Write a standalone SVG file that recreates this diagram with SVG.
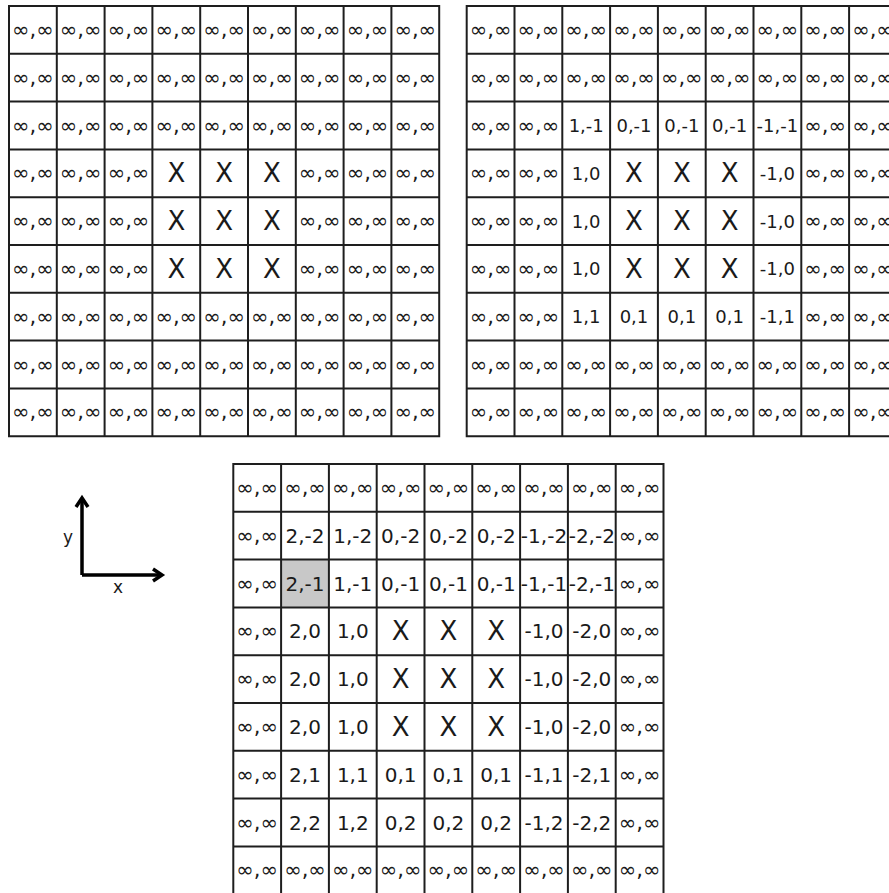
<svg xmlns="http://www.w3.org/2000/svg" xmlns:xlink="http://www.w3.org/1999/xlink" width="889" height="893" viewBox="0 0 889 893">
<style>
text{font-family:"DejaVu Sans","Liberation Sans",sans-serif;fill:#1a1a1a;text-anchor:middle;dominant-baseline:central}
.i{font-size:21px}
.b{font-size:18px}
.c{font-size:20px}
.x{font-size:26px}
.grid{fill:none;stroke:#1e1e1e;stroke-width:2}
.ax{fill:none;stroke:#000;stroke-width:3.5;stroke-linecap:butt;stroke-linejoin:miter}
.lbl{font-size:17px;dominant-baseline:auto}
</style>
<defs>
<path id="gridlines" class="grid" d="M0,0H430.2V430.2H0Z M47.8,0V430.2 M95.6,0V430.2 M143.4,0V430.2 M191.2,0V430.2 M239,0V430.2 M286.8,0V430.2 M334.6,0V430.2 M382.4,0V430.2 M0,47.8H430.2 M0,95.6H430.2 M0,143.4H430.2 M0,191.2H430.2 M0,239H430.2 M0,286.8H430.2 M0,334.6H430.2 M0,382.4H430.2"/>
</defs>
<rect width="889" height="893" fill="#fff"/>

<g id="gridA" transform="translate(9,6)">
<use xlink:href="#gridlines"/>
<g transform="translate(0,23.9)">
<g><text class="i" x="23.9">∞,∞</text><text class="i" x="71.7">∞,∞</text><text class="i" x="119.5">∞,∞</text><text class="i" x="167.3">∞,∞</text><text class="i" x="215.1">∞,∞</text><text class="i" x="262.9">∞,∞</text><text class="i" x="310.7">∞,∞</text><text class="i" x="358.5">∞,∞</text><text class="i" x="406.3">∞,∞</text></g>
<g transform="translate(0,47.8)"><text class="i" x="23.9">∞,∞</text><text class="i" x="71.7">∞,∞</text><text class="i" x="119.5">∞,∞</text><text class="i" x="167.3">∞,∞</text><text class="i" x="215.1">∞,∞</text><text class="i" x="262.9">∞,∞</text><text class="i" x="310.7">∞,∞</text><text class="i" x="358.5">∞,∞</text><text class="i" x="406.3">∞,∞</text></g>
<g transform="translate(0,95.6)"><text class="i" x="23.9">∞,∞</text><text class="i" x="71.7">∞,∞</text><text class="i" x="119.5">∞,∞</text><text class="i" x="167.3">∞,∞</text><text class="i" x="215.1">∞,∞</text><text class="i" x="262.9">∞,∞</text><text class="i" x="310.7">∞,∞</text><text class="i" x="358.5">∞,∞</text><text class="i" x="406.3">∞,∞</text></g>
<g transform="translate(0,143.4)"><text class="i" x="23.9">∞,∞</text><text class="i" x="71.7">∞,∞</text><text class="i" x="119.5">∞,∞</text><text class="x" x="167.3">X</text><text class="x" x="215.1">X</text><text class="x" x="262.9">X</text><text class="i" x="310.7">∞,∞</text><text class="i" x="358.5">∞,∞</text><text class="i" x="406.3">∞,∞</text></g>
<g transform="translate(0,191.2)"><text class="i" x="23.9">∞,∞</text><text class="i" x="71.7">∞,∞</text><text class="i" x="119.5">∞,∞</text><text class="x" x="167.3">X</text><text class="x" x="215.1">X</text><text class="x" x="262.9">X</text><text class="i" x="310.7">∞,∞</text><text class="i" x="358.5">∞,∞</text><text class="i" x="406.3">∞,∞</text></g>
<g transform="translate(0,239)"><text class="i" x="23.9">∞,∞</text><text class="i" x="71.7">∞,∞</text><text class="i" x="119.5">∞,∞</text><text class="x" x="167.3">X</text><text class="x" x="215.1">X</text><text class="x" x="262.9">X</text><text class="i" x="310.7">∞,∞</text><text class="i" x="358.5">∞,∞</text><text class="i" x="406.3">∞,∞</text></g>
<g transform="translate(0,286.8)"><text class="i" x="23.9">∞,∞</text><text class="i" x="71.7">∞,∞</text><text class="i" x="119.5">∞,∞</text><text class="i" x="167.3">∞,∞</text><text class="i" x="215.1">∞,∞</text><text class="i" x="262.9">∞,∞</text><text class="i" x="310.7">∞,∞</text><text class="i" x="358.5">∞,∞</text><text class="i" x="406.3">∞,∞</text></g>
<g transform="translate(0,334.6)"><text class="i" x="23.9">∞,∞</text><text class="i" x="71.7">∞,∞</text><text class="i" x="119.5">∞,∞</text><text class="i" x="167.3">∞,∞</text><text class="i" x="215.1">∞,∞</text><text class="i" x="262.9">∞,∞</text><text class="i" x="310.7">∞,∞</text><text class="i" x="358.5">∞,∞</text><text class="i" x="406.3">∞,∞</text></g>
<g transform="translate(0,382.4)"><text class="i" x="23.9">∞,∞</text><text class="i" x="71.7">∞,∞</text><text class="i" x="119.5">∞,∞</text><text class="i" x="167.3">∞,∞</text><text class="i" x="215.1">∞,∞</text><text class="i" x="262.9">∞,∞</text><text class="i" x="310.7">∞,∞</text><text class="i" x="358.5">∞,∞</text><text class="i" x="406.3">∞,∞</text></g>
</g>
</g>

<g id="gridB" transform="translate(466.7,6)">
<use xlink:href="#gridlines"/>
<g transform="translate(0,23.9)">
<g><text class="i" x="23.9">∞,∞</text><text class="i" x="71.7">∞,∞</text><text class="i" x="119.5">∞,∞</text><text class="i" x="167.3">∞,∞</text><text class="i" x="215.1">∞,∞</text><text class="i" x="262.9">∞,∞</text><text class="i" x="310.7">∞,∞</text><text class="i" x="358.5">∞,∞</text><text class="i" x="406.3">∞,∞</text></g>
<g transform="translate(0,47.8)"><text class="i" x="23.9">∞,∞</text><text class="i" x="71.7">∞,∞</text><text class="i" x="119.5">∞,∞</text><text class="i" x="167.3">∞,∞</text><text class="i" x="215.1">∞,∞</text><text class="i" x="262.9">∞,∞</text><text class="i" x="310.7">∞,∞</text><text class="i" x="358.5">∞,∞</text><text class="i" x="406.3">∞,∞</text></g>
<g transform="translate(0,95.6)"><text class="i" x="23.9">∞,∞</text><text class="i" x="71.7">∞,∞</text><text class="b" x="119.5">1,-1</text><text class="b" x="167.3">0,-1</text><text class="b" x="215.1">0,-1</text><text class="b" x="262.9">0,-1</text><text class="b" x="310.7">-1,-1</text><text class="i" x="358.5">∞,∞</text><text class="i" x="406.3">∞,∞</text></g>
<g transform="translate(0,143.4)"><text class="i" x="23.9">∞,∞</text><text class="i" x="71.7">∞,∞</text><text class="b" x="119.5">1,0</text><text class="x" x="167.3">X</text><text class="x" x="215.1">X</text><text class="x" x="262.9">X</text><text class="b" x="310.7">-1,0</text><text class="i" x="358.5">∞,∞</text><text class="i" x="406.3">∞,∞</text></g>
<g transform="translate(0,191.2)"><text class="i" x="23.9">∞,∞</text><text class="i" x="71.7">∞,∞</text><text class="b" x="119.5">1,0</text><text class="x" x="167.3">X</text><text class="x" x="215.1">X</text><text class="x" x="262.9">X</text><text class="b" x="310.7">-1,0</text><text class="i" x="358.5">∞,∞</text><text class="i" x="406.3">∞,∞</text></g>
<g transform="translate(0,239)"><text class="i" x="23.9">∞,∞</text><text class="i" x="71.7">∞,∞</text><text class="b" x="119.5">1,0</text><text class="x" x="167.3">X</text><text class="x" x="215.1">X</text><text class="x" x="262.9">X</text><text class="b" x="310.7">-1,0</text><text class="i" x="358.5">∞,∞</text><text class="i" x="406.3">∞,∞</text></g>
<g transform="translate(0,286.8)"><text class="i" x="23.9">∞,∞</text><text class="i" x="71.7">∞,∞</text><text class="b" x="119.5">1,1</text><text class="b" x="167.3">0,1</text><text class="b" x="215.1">0,1</text><text class="b" x="262.9">0,1</text><text class="b" x="310.7">-1,1</text><text class="i" x="358.5">∞,∞</text><text class="i" x="406.3">∞,∞</text></g>
<g transform="translate(0,334.6)"><text class="i" x="23.9">∞,∞</text><text class="i" x="71.7">∞,∞</text><text class="i" x="119.5">∞,∞</text><text class="i" x="167.3">∞,∞</text><text class="i" x="215.1">∞,∞</text><text class="i" x="262.9">∞,∞</text><text class="i" x="310.7">∞,∞</text><text class="i" x="358.5">∞,∞</text><text class="i" x="406.3">∞,∞</text></g>
<g transform="translate(0,382.4)"><text class="i" x="23.9">∞,∞</text><text class="i" x="71.7">∞,∞</text><text class="i" x="119.5">∞,∞</text><text class="i" x="167.3">∞,∞</text><text class="i" x="215.1">∞,∞</text><text class="i" x="262.9">∞,∞</text><text class="i" x="310.7">∞,∞</text><text class="i" x="358.5">∞,∞</text><text class="i" x="406.3">∞,∞</text></g>
</g>
</g>

<g id="gridC" transform="translate(233.3,464)">
<rect id="highlight" x="47.8" y="95.6" width="47.8" height="47.8" fill="#c8c8c8"/>
<use xlink:href="#gridlines"/>
<g transform="translate(0,23.9)">
<g><text class="i" x="23.9">∞,∞</text><text class="i" x="71.7">∞,∞</text><text class="i" x="119.5">∞,∞</text><text class="i" x="167.3">∞,∞</text><text class="i" x="215.1">∞,∞</text><text class="i" x="262.9">∞,∞</text><text class="i" x="310.7">∞,∞</text><text class="i" x="358.5">∞,∞</text><text class="i" x="406.3">∞,∞</text></g>
<g transform="translate(0,47.8)"><text class="i" x="23.9">∞,∞</text><text class="c" x="71.7">2,-2</text><text class="c" x="119.5">1,-2</text><text class="c" x="167.3">0,-2</text><text class="c" x="215.1">0,-2</text><text class="c" x="262.9">0,-2</text><text class="c" x="310.7">-1,-2</text><text class="c" x="358.5">-2,-2</text><text class="i" x="406.3">∞,∞</text></g>
<g transform="translate(0,95.6)"><text class="i" x="23.9">∞,∞</text><text class="c" x="71.7">2,-1</text><text class="c" x="119.5">1,-1</text><text class="c" x="167.3">0,-1</text><text class="c" x="215.1">0,-1</text><text class="c" x="262.9">0,-1</text><text class="c" x="310.7">-1,-1</text><text class="c" x="358.5">-2,-1</text><text class="i" x="406.3">∞,∞</text></g>
<g transform="translate(0,143.4)"><text class="i" x="23.9">∞,∞</text><text class="c" x="71.7">2,0</text><text class="c" x="119.5">1,0</text><text class="x" x="167.3">X</text><text class="x" x="215.1">X</text><text class="x" x="262.9">X</text><text class="c" x="310.7">-1,0</text><text class="c" x="358.5">-2,0</text><text class="i" x="406.3">∞,∞</text></g>
<g transform="translate(0,191.2)"><text class="i" x="23.9">∞,∞</text><text class="c" x="71.7">2,0</text><text class="c" x="119.5">1,0</text><text class="x" x="167.3">X</text><text class="x" x="215.1">X</text><text class="x" x="262.9">X</text><text class="c" x="310.7">-1,0</text><text class="c" x="358.5">-2,0</text><text class="i" x="406.3">∞,∞</text></g>
<g transform="translate(0,239)"><text class="i" x="23.9">∞,∞</text><text class="c" x="71.7">2,0</text><text class="c" x="119.5">1,0</text><text class="x" x="167.3">X</text><text class="x" x="215.1">X</text><text class="x" x="262.9">X</text><text class="c" x="310.7">-1,0</text><text class="c" x="358.5">-2,0</text><text class="i" x="406.3">∞,∞</text></g>
<g transform="translate(0,286.8)"><text class="i" x="23.9">∞,∞</text><text class="c" x="71.7">2,1</text><text class="c" x="119.5">1,1</text><text class="c" x="167.3">0,1</text><text class="c" x="215.1">0,1</text><text class="c" x="262.9">0,1</text><text class="c" x="310.7">-1,1</text><text class="c" x="358.5">-2,1</text><text class="i" x="406.3">∞,∞</text></g>
<g transform="translate(0,334.6)"><text class="i" x="23.9">∞,∞</text><text class="c" x="71.7">2,2</text><text class="c" x="119.5">1,2</text><text class="c" x="167.3">0,2</text><text class="c" x="215.1">0,2</text><text class="c" x="262.9">0,2</text><text class="c" x="310.7">-1,2</text><text class="c" x="358.5">-2,2</text><text class="i" x="406.3">∞,∞</text></g>
<g transform="translate(0,382.4)"><text class="i" x="23.9">∞,∞</text><text class="i" x="71.7">∞,∞</text><text class="i" x="119.5">∞,∞</text><text class="i" x="167.3">∞,∞</text><text class="i" x="215.1">∞,∞</text><text class="i" x="262.9">∞,∞</text><text class="i" x="310.7">∞,∞</text><text class="i" x="358.5">∞,∞</text><text class="i" x="406.3">∞,∞</text></g>
</g>
</g>

<g id="axes">
<path class="ax" d="M82,575V499 M162,575H82"/>
<polyline class="ax" points="76,507 82,498 88,507"/>
<polyline class="ax" points="153,569 162,575 153,581"/>
<text class="lbl" x="68" y="543">y</text>
<text class="lbl" x="118" y="593">x</text>
</g>
</svg>
